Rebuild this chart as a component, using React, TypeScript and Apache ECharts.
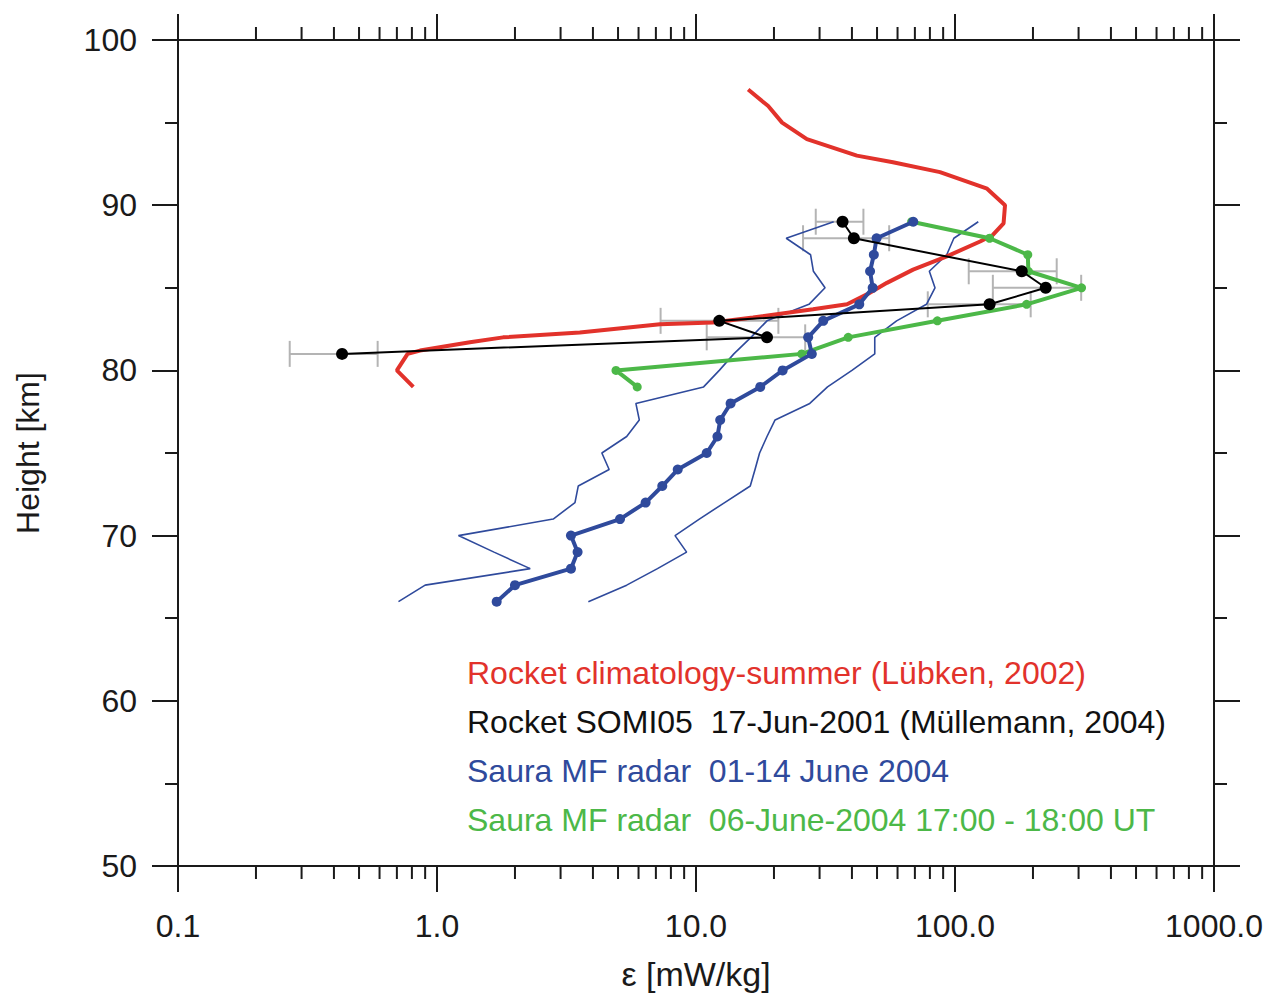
import React, { useEffect, useRef } from "react";
import * as echarts from "echarts";

// Rocket climatology, summer (Lübken, 2002)
const climHeight = [97.0, 96.0, 95.0, 94.0, 93.0, 92.6, 92.0, 91.0, 90.0, 88.9, 88.2, 87.8, 86.9, 86.1, 85.3, 84.6, 84.0, 83.7, 83.2, 82.9, 82.8, 82.3, 82.0, 81.7, 81.2, 81.0, 80.0, 79.0];
const climEps = [15.9, 19.0, 21.5, 26.8, 41.8, 57.6, 87.5, 133, 156, 154, 140, 125, 93, 68.9, 54.6, 45.7, 38.3, 28.3, 16.6, 11.6, 7.26, 3.56, 1.80, 1.34, 0.86, 0.77, 0.70, 0.81];

// Rocket SOMI05, 17-Jun-2001 (Müllemann, 2004) with uncertainty range
const rocketHeight = [89, 88, 86, 85, 84, 83, 82, 81];
const rocketEps = [36.8, 40.7, 181, 224, 136, 12.3, 18.8, 0.43];
const rocketLow = [29.0, 25.9, 113, 140, 78.5, 7.3, 11.0, 0.27];
const rocketHigh = [44.3, 55.7, 247, 307, 196, 20.8, 26.4, 0.59];

// Saura MF radar, 01-14 June 2004: mean and spread
const radarHeight = [66, 67, 68, 69, 70, 71, 72, 73, 74, 75, 76, 77, 78, 79, 80, 81, 82, 83, 84, 85, 86, 87, 88, 89];
const radarEps = [1.70, 2.0, 3.29, 3.49, 3.29, 5.09, 6.39, 7.41, 8.50, 11.0, 12.1, 12.4, 13.6, 17.7, 21.6, 28.0, 27.1, 31.0, 42.7, 48.1, 47.0, 48.6, 49.8, 69.0];
const radarLow = [0.71, 0.90, 2.29, 1.66, 1.21, 2.81, 3.41, 3.51, 4.62, 4.33, 5.40, 6.04, 5.86, 10.7, 12.3, 14.0, 16.3, 18.8, 27.3, 31.5, 28.4, 27.7, 22.3, 34.0];
const radarHigh = [3.84, 5.40, 7.1, 9.2, 8.3, 10.3, 12.9, 16.2, 16.9, 17.6, 18.8, 20.2, 27.5, 32.2, 40.0, 49.0, 49.0, 59.5, 77.6, 83.7, 79.6, 92.9, 99.0, 123];

// Saura MF radar, 06-June-2004 17:00 - 18:00 UT
const eventHeight = [89, 88, 87, 86, 85, 84, 83, 82, 81, 80, 79];
const eventEps = [68.0, 136, 191, 192, 308, 189, 85.5, 38.7, 25.6, 4.91, 5.93];

// Minor tick positions of the logarithmic ε axis
const xMinorTicks = [
  0.2, 0.3, 0.4, 0.5, 0.6, 0.7, 0.8, 0.9,
  2, 3, 4, 5, 6, 7, 8, 9,
  20, 30, 40, 50, 60, 70, 80, 90,
  200, 300, 400, 500, 600, 700, 800, 900,
];

const legendLines = [
  { text: "Rocket climatology-summer (Lübken, 2002)", color: "#e2322b" },
  { text: "Rocket SOMI05  17-Jun-2001 (Müllemann, 2004)", color: "#111111" },
  { text: "Saura MF radar  01-14 June 2004", color: "#2f4a9c" },
  { text: "Saura MF radar  06-June-2004 17:00 - 18:00 UT", color: "#4cb848" },
];

const FONT = "'Liberation Sans', Arial, Helvetica, sans-serif";
const AXIS_COLOR = "#1a1a1a";
const RED = "#e2322b";
const BLUE = "#2f4a9c";
const GREEN = "#4cb848";
const BLACK = "#000000";
const GRAY = "#b4b4b4";

const pairs = (xs: number[], ys: number[]) => xs.map((x, i) => [x, ys[i]]);

export default function App() {
  const ref = useRef<HTMLDivElement>(null);

  useEffect(() => {
    if (!ref.current) return;
    const chart = echarts.init(ref.current, undefined, { renderer: "svg" });

    const xCommon = {
      type: "log" as const,
      logBase: 10,
      min: 0.1,
      max: 1000,
      splitLine: { show: false },
      axisLine: { show: true, lineStyle: { color: AXIS_COLOR, width: 2 } },
      axisTick: { show: true, inside: false, length: 26, lineStyle: { color: AXIS_COLOR, width: 2 } },
    };

    const yCommon = {
      type: "value" as const,
      min: 50,
      max: 100,
      interval: 10,
      splitLine: { show: false },
      axisLine: { show: true, lineStyle: { color: AXIS_COLOR, width: 2 } },
      axisTick: { show: true, inside: false, length: 26, lineStyle: { color: AXIS_COLOR, width: 2 } },
      minorTick: { show: true, splitNumber: 2, length: 13, lineStyle: { color: AXIS_COLOR, width: 2 } },
    };

    chart.setOption({
      animation: false,
      backgroundColor: "#ffffff",
      textStyle: { fontFamily: FONT },
      grid: { left: 178, top: 40, width: 1036, height: 826, containLabel: false },
      xAxis: [
        {
          ...xCommon,
          position: "bottom",
          axisLabel: {
            show: true,
            fontSize: 32,
            color: AXIS_COLOR,
            fontFamily: FONT,
            margin: 44,
            formatter: (v: number) => Number(v).toFixed(1),
          },
          name: "ε [mW/kg]",
          nameLocation: "middle",
          nameGap: 91,
          nameTextStyle: { fontSize: 34, color: AXIS_COLOR, fontFamily: FONT },
        },
        {
          ...xCommon,
          position: "top",
          axisLabel: { show: false },
        },
      ],
      yAxis: [
        {
          ...yCommon,
          position: "left",
          axisLabel: { show: true, fontSize: 32, color: AXIS_COLOR, fontFamily: FONT, margin: 41 },
          name: "Height [km]",
          nameLocation: "middle",
          nameGap: 134,
          nameTextStyle: { fontSize: 32, color: AXIS_COLOR, fontFamily: FONT },
        },
        {
          ...yCommon,
          position: "right",
          axisLabel: { show: false },
        },
      ],
      graphic: legendLines.map((l, i) => ({
        type: "text",
        left: 467,
        top: 657 + i * 49,
        style: { text: l.text, fill: l.color, font: `32px ${FONT}` },
        silent: true,
      })),
      series: [
        {
          // minor ticks of the ε axis, bottom and top
          type: "custom",
          silent: true,
          xAxisIndex: 0,
          yAxisIndex: 0,
          clip: false,
          data: xMinorTicks.map((v) => [v, 50]),
          encode: { x: 0, y: 1 },
          renderItem: (_p: any, api: any) => {
            const v = api.value(0);
            const b = api.coord([v, 50]);
            const t = api.coord([v, 100]);
            const st = { stroke: AXIS_COLOR, lineWidth: 2 };
            return {
              type: "group",
              children: [
                { type: "line", shape: { x1: b[0], y1: b[1], x2: b[0], y2: b[1] + 13 }, style: st },
                { type: "line", shape: { x1: t[0], y1: t[1], x2: t[0], y2: t[1] - 13 }, style: st },
              ],
            };
          },
          z: 1,
        },
        {
          // uncertainty bars of the rocket profile
          type: "custom",
          silent: true,
          data: rocketHeight.map((h, i) => [rocketLow[i], rocketHigh[i], h]),
          encode: { x: [0, 1], y: 2 },
          renderItem: (_p: any, api: any) => {
            const h = api.value(2);
            const a = api.coord([api.value(0), h]);
            const b = api.coord([api.value(1), h]);
            const st = { stroke: GRAY, lineWidth: 2 };
            return {
              type: "group",
              children: [
                { type: "line", shape: { x1: a[0], y1: a[1], x2: b[0], y2: b[1] }, style: st },
                { type: "line", shape: { x1: a[0], y1: a[1] - 13, x2: a[0], y2: a[1] + 13 }, style: st },
                { type: "line", shape: { x1: b[0], y1: b[1] - 13, x2: b[0], y2: b[1] + 13 }, style: st },
              ],
            };
          },
          z: 2,
        },
        {
          name: "radar low",
          type: "line",
          data: pairs(radarLow, radarHeight),
          showSymbol: false,
          lineStyle: { color: BLUE, width: 1.6 },
          z: 3,
        },
        {
          name: "radar high",
          type: "line",
          data: pairs(radarHigh, radarHeight),
          showSymbol: false,
          lineStyle: { color: BLUE, width: 1.6 },
          z: 3,
        },
        {
          name: "Rocket climatology-summer",
          type: "line",
          data: pairs(climEps, climHeight),
          showSymbol: false,
          lineStyle: { color: RED, width: 4 },
          z: 4,
        },
        {
          name: "Saura MF radar 06-June-2004",
          type: "line",
          data: pairs(eventEps, eventHeight),
          symbol: "circle",
          symbolSize: 9,
          itemStyle: { color: GREEN },
          lineStyle: { color: GREEN, width: 4 },
          z: 5,
        },
        {
          name: "Saura MF radar 01-14 June 2004",
          type: "line",
          data: pairs(radarEps, radarHeight),
          symbol: "circle",
          symbolSize: 10,
          itemStyle: { color: BLUE },
          lineStyle: { color: BLUE, width: 4 },
          z: 6,
        },
        {
          name: "Rocket SOMI05",
          type: "line",
          data: pairs(rocketEps, rocketHeight),
          symbol: "circle",
          symbolSize: 12,
          itemStyle: { color: BLACK },
          lineStyle: { color: BLACK, width: 2 },
          z: 7,
        },
      ],
    });

    return () => chart.dispose();
  }, []);

  return (
    <div
      ref={ref}
      style={{ position: "absolute", left: 0, top: 0, width: 1267, height: 998, overflow: "hidden", background: "#fff" }}
    />
  );
}
